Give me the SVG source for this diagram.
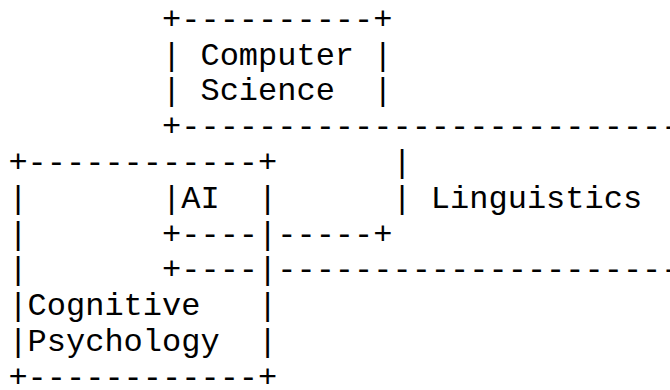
<svg xmlns="http://www.w3.org/2000/svg" width="670" height="390" viewBox="0 0 670 390">
<style>
text{font-family:"Liberation Mono","Courier New",monospace;font-size:32px;fill:#000;white-space:pre}
</style>
<rect width="670" height="390" fill="#fff"/>
<g id="diagram" xml:space="preserve">
<text x="8.4" y="28.8">        +----------+</text>
<text x="8.4" y="64.6">        | Computer |</text>
<text x="8.4" y="100.4">        | Science  |</text>
<text x="8.4" y="136.2">        +------------------------------</text>
<text x="8.4" y="172">+------------+      |</text>
<text x="8.4" y="207.8">|       |AI  |      | Linguistics</text>
<text x="8.4" y="243.6">|       +----|-----+</text>
<text x="8.4" y="279.4">|       +----|--------------------------</text>
<text x="8.4" y="315.2">|Cognitive   |</text>
<text x="8.4" y="351">|Psychology  |</text>
<text x="8.4" y="386.8">+------------+</text>
</g>
</svg>
